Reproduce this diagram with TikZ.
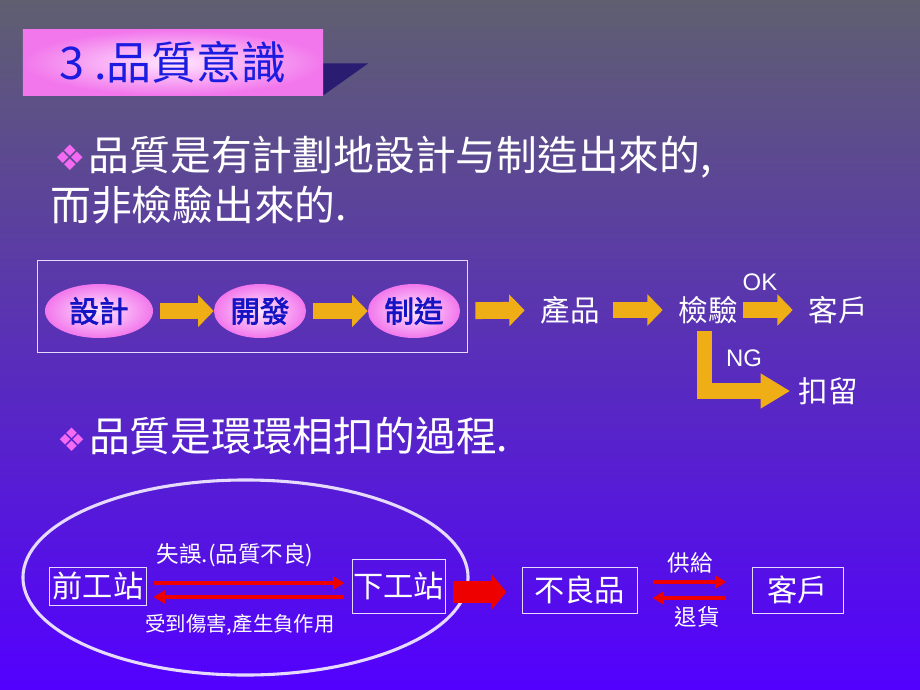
\documentclass[tikz,border=0pt]{standalone}
\usepackage{fontspec}
\setmainfont{Noto Sans CJK TC}
\newfontfamily\latinfont{Liberation Sans}
\newfontfamily\symfont{DejaVu Sans}
\newfontfamily\boldcjk{Noto Sans CJK TC}[FakeBold=2.5]
\usepackage{tikz}
\usetikzlibrary{arrows.meta, positioning, shapes.geometric, calc}
\definecolor{bgtop}{HTML}{5F5F70}
\definecolor{bgmid}{HTML}{6446C0}
\definecolor{bgbottom}{HTML}{5300FF}
\definecolor{pinkedge}{HTML}{F277EC}
\definecolor{pinkcore}{HTML}{FFE6FF}
\definecolor{titleblue}{HTML}{1C1CE0}
\definecolor{stageblue}{HTML}{1414C4}
\definecolor{arrowgold}{HTML}{EFAE16}
\definecolor{alarmred}{HTML}{EE0000}
\definecolor{frameline}{HTML}{E6DAFF}
\definecolor{diamondpink}{HTML}{F46AF2}
\definecolor{shadownavy}{HTML}{2A1C70}

\begin{document}
\begin{tikzpicture}[x=0.025cm, y=-0.025cm,
    titlebox/.style={rectangle, minimum width=7.5cm, minimum height=1.625cm,
                     inner color=pinkcore, outer color=pinkedge, text=titleblue,
                     font=\fontsize{32pt}{36pt}\selectfont},
    bullet/.style={text=white, inner sep=0pt, anchor=west, align=left,
                   font=\fontsize{29pt}{35.5pt}\selectfont},
    stage/.style={ellipse, minimum height=1.35cm, inner sep=0pt,
                  inner color=pinkcore, outer color=pinkedge, text=stageblue,
                  font=\boldcjk\fontsize{21pt}{24pt}\selectfont},
    frame/.style={rectangle, draw=frameline, line width=0.7pt},
    word/.style={text=white, inner sep=0pt, font=\fontsize{21pt}{24pt}\selectfont},
    tag/.style={text=white, inner sep=0pt, font=\latinfont\fontsize{17pt}{20pt}\selectfont},
    station/.style={rectangle, draw=frameline, line width=0.7pt, text=white,
                    inner sep=0pt, font=\fontsize{21.5pt}{24pt}\selectfont},
    note/.style={text=white, inner sep=0pt, font=\fontsize{16pt}{19pt}\selectfont},
    goldarrow/.style={line width=12pt, color=arrowgold, line join=miter,
                      -{Triangle[length=11pt, width=22pt]}},
    redline/.style={line width=2.8pt, color=alarmred, -{Triangle[length=8pt, width=9pt]}},
    redblock/.style={line width=15pt, color=alarmred, -{Triangle[length=10.7pt, width=25pt]}}
  ]
    \useasboundingbox (0,0) rectangle (920,690);
    \shade[top color=bgtop, middle color=bgmid, bottom color=bgbottom] (0,0) rectangle (920,690);

    % Title
    \node[titlebox] (title) at (173,62.5) {3 .品質意識};
    \fill[shadownavy] (title.south east) -- ++(0,-32) -- ++(45,0) -- cycle;

    % Bullets
    \node[bullet] (idea) at (50,180)
      {\hspace*{3pt}{\symfont\color{diamondpink}\fontsize{25pt}{25pt}\selectfont ❖}\hspace{2pt}品質是有計劃地設計与制造出來的,\\而非檢驗出來的.};
    \node[bullet] (chain) at (57,436)
      {{\symfont\color{diamondpink}\fontsize{23pt}{23pt}\selectfont ❖}\hspace{2pt}品質是環環相扣的過程.};

    % Stages
    \node[frame, minimum width=10.725cm, minimum height=2.275cm] (box) at (252.5,306.5) {};
    \node[stage, minimum width=2.7cm] (design)  at (99,311)  {設計};
    \node[stage, minimum width=2.3cm] (develop) at (260,311) {開發};
    \node[stage, minimum width=2.3cm] (make)    at (414,311) {制造};
    \node[word] (product)  at (570,310) {產品};
    \node[word] (inspect)  at (708,310) {檢驗};
    \node[word] (customer) at (838,310) {客戶};
    \node[word] (hold)     at (828,391) {扣留};
    \node[tag] (ok) at (760,282) {OK};
    \node[tag] (ng) at (744,358) {NG};

    \draw[goldarrow, shorten <=5pt] (design) -- (develop);
    \draw[goldarrow, shorten <=5pt] (develop) -- (make);
    \draw[goldarrow, shorten <=10.7pt, shorten >=11pt] (make) -- (product);
    \draw[goldarrow, shorten <=9.6pt, shorten >=11pt] (product) -- (inspect);
    \draw[goldarrow, shorten <=4pt, shorten >=11pt] (inspect) -- (customer);
    \draw[goldarrow, line width=10.7pt, shorten <=5pt, shorten >=5.7pt,
          -{Triangle[length=21pt, width=23.5pt]}] ([xshift=-2.5pt]inspect.south) |- (hold.west);

    % Stations
    \node[ellipse, draw=frameline, line width=2.2pt, minimum width=11.125cm,
          minimum height=4.875cm] (loop) at (245.5,577.5) {};
    \node[station, minimum width=2.4cm, minimum height=0.95cm]   (prev)   at (98,586)    {前工站};
    \node[station, minimum width=2.325cm, minimum height=1.35cm] (next)   at (398.5,586) {下工站};
    \node[station, minimum width=2.875cm, minimum height=1.15cm] (defect) at (579.5,590) {不良品};
    \node[station, minimum width=2.275cm, minimum height=1.15cm] (client) at (797.5,590) {客戶};
    \node[note] (fault)  at (235,555) {失誤.(品質不良)};
    \node[note, font=\fontsize{14.5pt}{17pt}\selectfont] (harm) at (240,625) {受到傷害,產生負作用};
    \node[note] (supply) at (690,563) {供給};
    \node[note] (refund) at (697,617) {退貨};

    \draw[redline, shorten <=5pt, shorten >=5pt] ([yshift=2.1pt]prev.east) -- ([yshift=2.1pt]prev.east -| next.west);
    \draw[redline, shorten <=5pt, shorten >=5pt] ([yshift=-7.8pt]next.west) -- ([yshift=-7.8pt]next.west -| prev.east);
    \draw[redblock, shorten <=5pt, shorten >=10.7pt] ([yshift=-1.4pt]defect.west -| next.east) -- ([yshift=-1.4pt]defect.west);
    \draw[redline, shorten <=10.7pt, shorten >=17.8pt] ([yshift=5.7pt]defect.east) -- ([yshift=5.7pt]defect.east -| client.west);
    \draw[redline, shorten <=17.8pt, shorten >=10.7pt] ([yshift=-5.7pt]client.west) -- ([yshift=-5.7pt]client.west -| defect.east);
  \end{tikzpicture}
\end{document}
